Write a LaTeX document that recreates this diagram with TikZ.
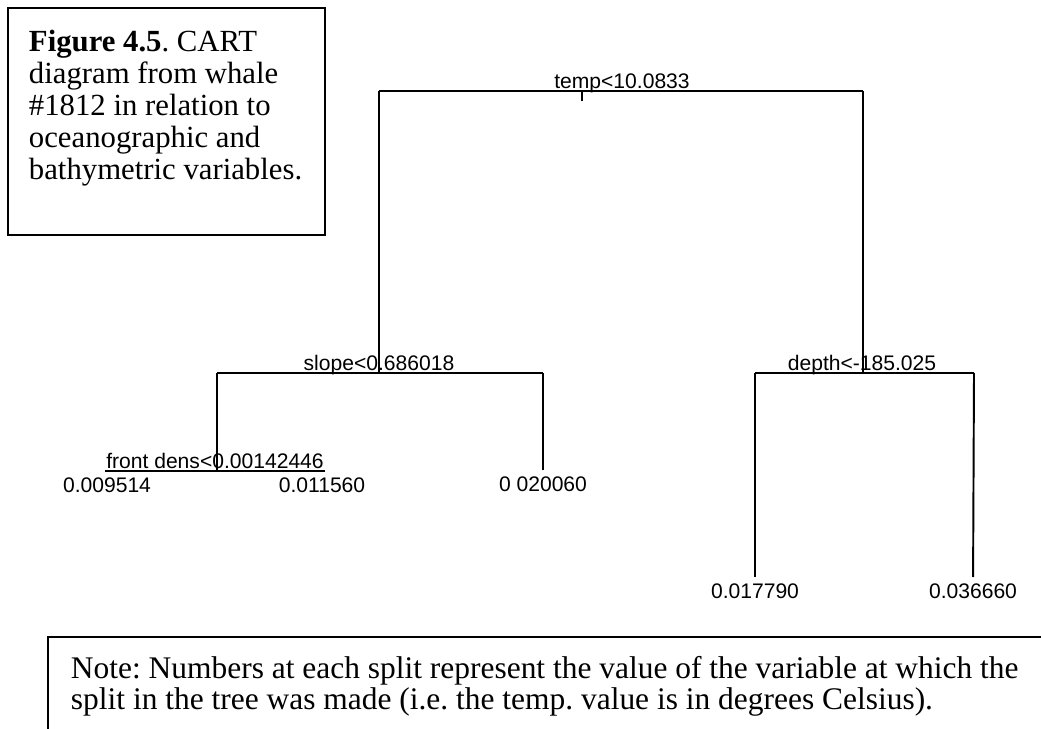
\documentclass[tikz,border=0pt]{standalone}
\usepackage{fontspec}
\setmainfont{Liberation Serif}
\newfontfamily\treefont{Liberation Sans}
\frenchspacing
\tikzset{
  splitlab/.style={font=\treefont\fontsize{12}{14}\selectfont, inner sep=0pt, anchor=base},
  leaf/.style={font=\treefont\fontsize{12}{14}\selectfont, inner xsep=0pt, inner ysep=3.4pt, anchor=north},
  capbox/.style={font=\fontsize{17.5}{18.3}\selectfont, align=left, inner sep=0pt, anchor=north west},
  notetext/.style={font=\fontsize{17.9}{17.6}\selectfont, align=left, inner sep=0pt, anchor=north west}
}

\begin{document}
\begin{tikzpicture}[x=0.02cm,y=-0.02cm,line width=1.1pt]
\useasboundingbox (0,0) rectangle (1041,729);

\node[capbox] (cap) at (28,29) {\textbf{Figure\ 4.5}. CART\\diagram from whale\\\#1812 in relation to\\oceanographic and\\bathymetric variables.};
\draw (8,8) rectangle (325,235);

\coordinate (rl) at (379,91);
\coordinate (rr) at (863,91);
\coordinate (rt) at (582,91);
\coordinate (rs) at (582,101);
\draw (rl) -- (rr);
\draw (rt) -- (rs);
\node[splitlab] (temp) at (622,89) {temp<10.0833};

\coordinate (slope) at (379,373);
\coordinate (sl) at (217,373);
\coordinate (sr) at (543,373);
\draw (rl) -- (slope);
\draw (sl) -- (sr);
\node[splitlab] (slopelab) at (379,371) {slope<0.686018};

\coordinate (depth) at (863,373);
\coordinate (dl) at (755,373);
\coordinate (dr) at (974,373);
\draw (rr) -- (depth);
\draw (dl) -- (dr);
\node[splitlab] (depthlab) at (862,371) {depth<-185.025};

\coordinate (front) at (217,471);
\coordinate (fl) at (105,471);
\coordinate (fr) at (325,471);
\draw (sl) -- (front);
\draw (fl) -- (fr);
\node[splitlab] (frontlab) at (215,468) {front dens<0.00142446};

\node[leaf] (l1) at (107,471) {0.009514};
\node[leaf] (l2) at (322,471) {0.011560};
\node[leaf] (l3) at (543,470) {0 020060};
\node[leaf] (l4) at (755,577) {0.017790};
\node[leaf] (l5) at (973,577) {0.036660};
\draw (sr) -- (l3);
\draw (dl) -- (l4);
\draw (dr) -- (l5);

\coordinate (nt) at (48,637);
\draw (1041,637) -- (nt) -- (48,729);
\node[notetext] (note) at (70,655) {Note: Numbers at each split represent the value of the variable at which the\\split in the tree was made (i.e. the temp. value is in degrees Celsius).};

\end{tikzpicture}
\end{document}
